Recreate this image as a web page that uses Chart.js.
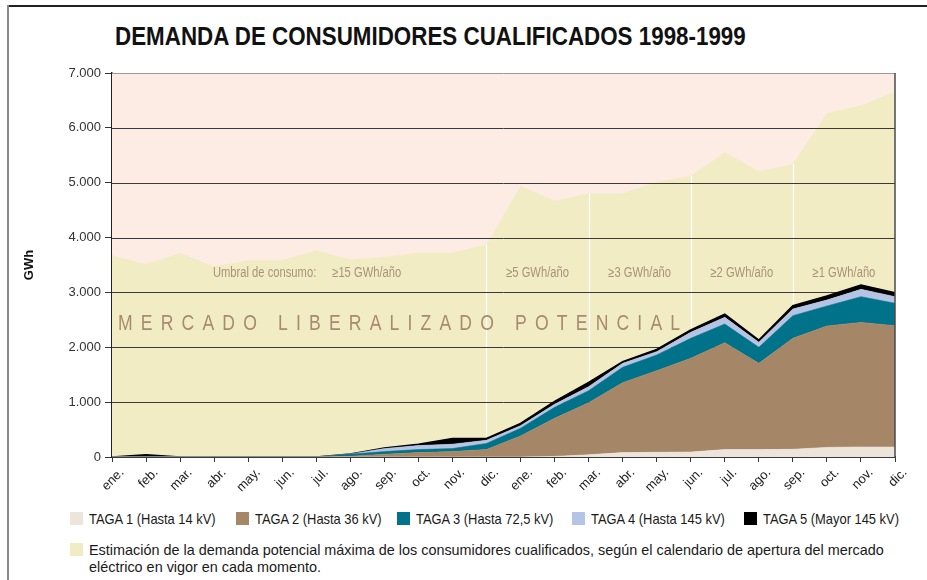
<!DOCTYPE html>
<html lang="es">
<head>
<meta charset="utf-8">
<title>Demanda de consumidores cualificados 1998-1999</title>
<script src="https://cdn.jsdelivr.net/npm/chart.js@4.4.1/dist/chart.umd.min.js"></script>
<style>
  html, body { margin: 0; padding: 0; background: #fff; }
  body {
    width: 927px; height: 580px; position: relative; overflow: hidden;
    font-family: "Liberation Sans", Arial, sans-serif;
    color: #1a1a1a;
  }
  .marco-top { position: absolute; left: 8px; top: 5px; width: 919px; height: 2px; background: #222; }
  .marco-left { position: absolute; left: 7px; top: 5px; width: 2px; height: 575px; background: #8a8a8a; }
  h1 {
    position: absolute; left: 115px; top: 24px; margin: 0;
    font-size: 25px; line-height: 25px; font-weight: bold; color: #111;
    white-space: nowrap; transform: scaleX(0.895); transform-origin: left top;
  }
  #wrap { position: absolute; left: 0; top: 0; width: 927px; height: 500px; }
  .ley { position: absolute; font-size: 15px; line-height: 17px; white-space: nowrap; color: #1a1a1a; }
  .ley i { position: absolute; left: -19px; top: 2px; width: 13px; height: 13px; }
  .ley span { display: inline-block; transform: scaleX(0.86); transform-origin: left top; }
  .ley.larga span { transform: scaleX(0.96); }
</style>
</head>
<body>
<div class="marco-top"></div>
<div class="marco-left"></div>
<h1>DEMANDA DE CONSUMIDORES CUALIFICADOS 1998-1999</h1>
<div id="wrap"><canvas id="chartDemanda"></canvas></div>
<div id="leyenda"></div>

<script>
// Meses de 1998 y 1999
const MESES = ['ene.', 'feb.', 'mar.', 'abr.', 'may.', 'jun.', 'jul.', 'ago.', 'sep.', 'oct.', 'nov.', 'dic.',
               'ene.', 'feb.', 'mar.', 'abr.', 'may.', 'jun.', 'jul.', 'ago.', 'sep.', 'oct.', 'nov.', 'dic.'];

// Demanda por tarifa de acceso (GWh)
const TAGA1 = [0, 0, 0, 0, 0, 0, 0, 0, 0, 0, 0, 0,
               0, 10, 40, 80, 85, 90, 135, 135, 140, 175, 182, 182];
const TAGA2 = [0, 0, 0, 0, 0, 0, 0, 12, 50, 80, 98, 137,
               383, 695, 950, 1275, 1488, 1708, 1949, 1572, 2023, 2213, 2272, 2212];
const TAGA3 = [0, 0, 0, 0, 0, 0, 0, 38, 48, 55, 55, 110,
               139, 200, 219, 279, 286, 365, 340, 292, 413, 364, 468, 407];
const TAGA4 = [0, 0, 0, 0, 0, 0, 0, 5, 55, 73, 80, 58,
               49, 55, 73, 73, 61, 109, 122, 91, 121, 109, 134, 121];
const TAGA5 = [0, 40, 0, 0, 0, 0, 0, 0, 12, 25, 104, 33,
               43, 55, 79, 31, 42, 43, 60, 42, 61, 73, 79, 73];

// Demanda potencial máxima de los consumidores cualificados (GWh)
const POTENCIAL = [3678, 3514, 3720, 3478, 3587, 3587, 3769, 3599, 3648, 3727, 3727, 3873,
                   4939, 4671, 4805, 4805, 5018, 5122, 5555, 5207, 5341, 6268, 6408, 6665];

// Último mes de cada umbral de consumo y texto del umbral
const CORTES = [11, 14, 17, 20, 23];
const UMBRALES = ['≥15 GWh/año', '≥5 GWh/año', '≥3 GWh/año', '≥2 GWh/año', '≥1 GWh/año'];

const Y_TICKS = [0, 1000, 2000, 3000, 4000, 5000, 6000, 7000];

const SERIES = [
    { label: 'TAGA 1 (Hasta 14 kV)',   data: TAGA1, color: '#ede4dc' },
    { label: 'TAGA 2 (Hasta 36 kV)',   data: TAGA2, color: '#a58667' },
    { label: 'TAGA 3 (Hasta 72,5 kV)', data: TAGA3, color: '#00728a' },
    { label: 'TAGA 4 (Hasta 145 kV)',  data: TAGA4, color: '#b5c3e4' },
    { label: 'TAGA 5 (Mayor 145 kV)',  data: TAGA5, color: '#000000' }
];
const COLOR_POTENCIAL = '#f2ecc5';
const COLOR_FONDO = '#fdece3';
const COLOR_TEXTO = '#a8937a';
const FUENTE = '"Liberation Sans", Arial, sans-serif';

function miles(v) {
    return String(v).replace(/\B(?=(\d{3})+(?!\d))/g, '.');
}

function total(i) {
    return SERIES.reduce((s, serie) => s + serie.data[i], 0);
}

// texto estrechado horizontalmente (imitación de letra condensada)
function textoEstrecho(ctx, txt, x, y, align, sx) {
    ctx.save();
    ctx.translate(x, y);
    ctx.scale(sx, 1);
    ctx.textAlign = align;
    ctx.fillText(txt, 0, 0);
    ctx.restore();
}

// Fondo, cortes del calendario, rejilla y rótulos: todo bajo las áreas TAGA
const fondoPlugin = {
    id: 'fondo',
    beforeDatasetsDraw(chart) {
        const { ctx, chartArea: a } = chart;
        ctx.save();
        ctx.fillStyle = COLOR_FONDO;
        ctx.fillRect(a.left, a.top, a.right - a.left, a.bottom - a.top);
        ctx.restore();
    },
    afterDatasetDraw(chart, args) {
        if (args.index !== SERIES.length) return;
        const { ctx, chartArea: a, scales: { x, y } } = chart;
        ctx.save();

        // líneas blancas en cada cambio de umbral
        ctx.strokeStyle = '#ffffff';
        ctx.lineWidth = 1.2;
        CORTES.slice(0, -1).forEach(i => {
            const px = Math.round(x.getPixelForValue(i)) + 0.5;
            ctx.beginPath();
            ctx.moveTo(px, y.getPixelForValue(POTENCIAL[i]));
            ctx.lineTo(px, y.getPixelForValue(total(i)));
            ctx.stroke();
        });

        // rejilla horizontal
        Y_TICKS.forEach(v => {
            const py = Math.round(y.getPixelForValue(v)) + 0.5;
            ctx.strokeStyle = v === 7000 ? '#9a9a9a' : '#3a3a3a';
            ctx.lineWidth = 1;
            ctx.beginPath();
            ctx.moveTo(a.left, py);
            ctx.lineTo(a.right, py);
            ctx.stroke();
        });

        // umbrales de consumo
        ctx.fillStyle = COLOR_TEXTO;
        ctx.font = '14px ' + FUENTE;
        ctx.textBaseline = 'middle';
        const yTxt = y.getPixelForValue(3350);
        let desde = 0;
        CORTES.forEach((hasta, k) => {
            const cx = x.getPixelForValue((desde + hasta) / 2);
            if (k === 0) {
                textoEstrecho(ctx, 'Umbral de consumo:', cx + 17, yTxt, 'right', 0.8);
                textoEstrecho(ctx, UMBRALES[k], cx + 33, yTxt, 'left', 0.8);
            } else {
                textoEstrecho(ctx, UMBRALES[k], cx, yTxt, 'center', 0.8);
            }
            desde = hasta;
        });

        // rótulo del mercado potencial
        const rotulo = 'MERCADO LIBERALIZADO POTENCIAL';
        const sx = 0.8;
        ctx.font = '22px ' + FUENTE;
        ctx.fillStyle = '#a78b6e';
        ctx.textBaseline = 'middle';
        const ancho = 562 / sx;
        const base = ctx.measureText(rotulo).width;
        ctx.letterSpacing = ((ancho - base) / (rotulo.length - 1)).toFixed(2) + 'px';
        textoEstrecho(ctx, rotulo, a.left + 6, y.getPixelForValue(2420), 'left', sx);
        ctx.restore();
    },
    afterDraw(chart) {
        const { ctx, chartArea: a } = chart;
        ctx.save();
        ctx.strokeStyle = '#4a4a4a';
        ctx.lineWidth = 1.5;
        ctx.beginPath();
        ctx.moveTo(a.right, a.top);
        ctx.lineTo(a.right, a.bottom);
        ctx.stroke();
        ctx.restore();
    }
};

const datasets = SERIES.map((s, i) => ({
    label: s.label,
    data: s.data,
    stack: 'taga',
    fill: i === 0 ? 'origin' : '-1',
    backgroundColor: s.color,
    borderColor: s.color,
    borderWidth: i === SERIES.length - 1 ? 1.5 : 0.6,
    pointRadius: 0,
    tension: 0
}));

datasets.push({
    label: 'Estimación de la demanda potencial máxima',
    data: POTENCIAL,
    stack: 'potencial',
    fill: 'origin',
    backgroundColor: COLOR_POTENCIAL,
    borderColor: COLOR_POTENCIAL,
    borderWidth: 0,
    pointRadius: 0,
    tension: 0
});

new Chart(document.getElementById('chartDemanda'), {
    type: 'line',
    data: { labels: MESES, datasets },
    options: {
        responsive: true,
        maintainAspectRatio: false,
        animation: false,
        layout: { padding: { left: 0, top: 73, right: 32, bottom: 0 } },
        plugins: {
            legend: { display: false },
            tooltip: { enabled: false },
            filler: { propagate: false }
        },
        scales: {
            x: {
                z: 1,
                offset: false,
                afterFit(s) { s.height = 43; },
                grid: { drawOnChartArea: false, drawTicks: true, tickLength: 5, color: '#333' },
                border: { display: true, color: '#444', width: 2 },
                ticks: {
                    autoSkip: false, minRotation: 45, maxRotation: 45, padding: 3, labelOffset: 10,
                    color: '#222', font: { family: FUENTE, size: 13 }
                }
            },
            y: {
                z: 1,
                stacked: true,
                min: 0, max: 7000,
                afterFit(s) { s.width = 112; },
                afterBuildTicks(s) { s.ticks = Y_TICKS.map(v => ({ value: v })); },
                grid: { drawOnChartArea: false, drawTicks: true, tickLength: 7, color: '#333' },
                border: { display: true, color: '#222', width: 1.5 },
                ticks: {
                    padding: 4, color: '#333',
                    font: { family: FUENTE, size: 13 },
                    callback: v => miles(v)
                },
                title: {
                    display: true, text: 'GWh', color: '#111',
                    font: { family: FUENTE, size: 13, weight: 'bold' },
                    padding: { top: 22, bottom: 0 }
                }
            }
        }
    },
    plugins: [fondoPlugin]
});

// Leyenda
const leyenda = document.getElementById('leyenda');
const POS_LEYENDA = [89, 255, 416, 591, 763];
SERIES.forEach((s, i) => {
    const d = document.createElement('div');
    d.className = 'ley';
    d.style.left = POS_LEYENDA[i] + 'px';
    d.style.top = '510px';
    d.innerHTML = '<i style="background:' + s.color + '"></i><span>' + s.label + '</span>';
    leyenda.appendChild(d);
});
const pot = document.createElement('div');
pot.className = 'ley larga';
pot.style.left = '89px';
pot.style.top = '541px';
pot.innerHTML = '<i style="background:' + COLOR_POTENCIAL + '"></i><span>' +
    'Estimación de la demanda potencial máxima de los consumidores cualificados, según el calendario de apertura del mercado<br>' +
    'eléctrico en vigor en cada momento.</span>';
leyenda.appendChild(pot);
</script>
</body>
</html>
